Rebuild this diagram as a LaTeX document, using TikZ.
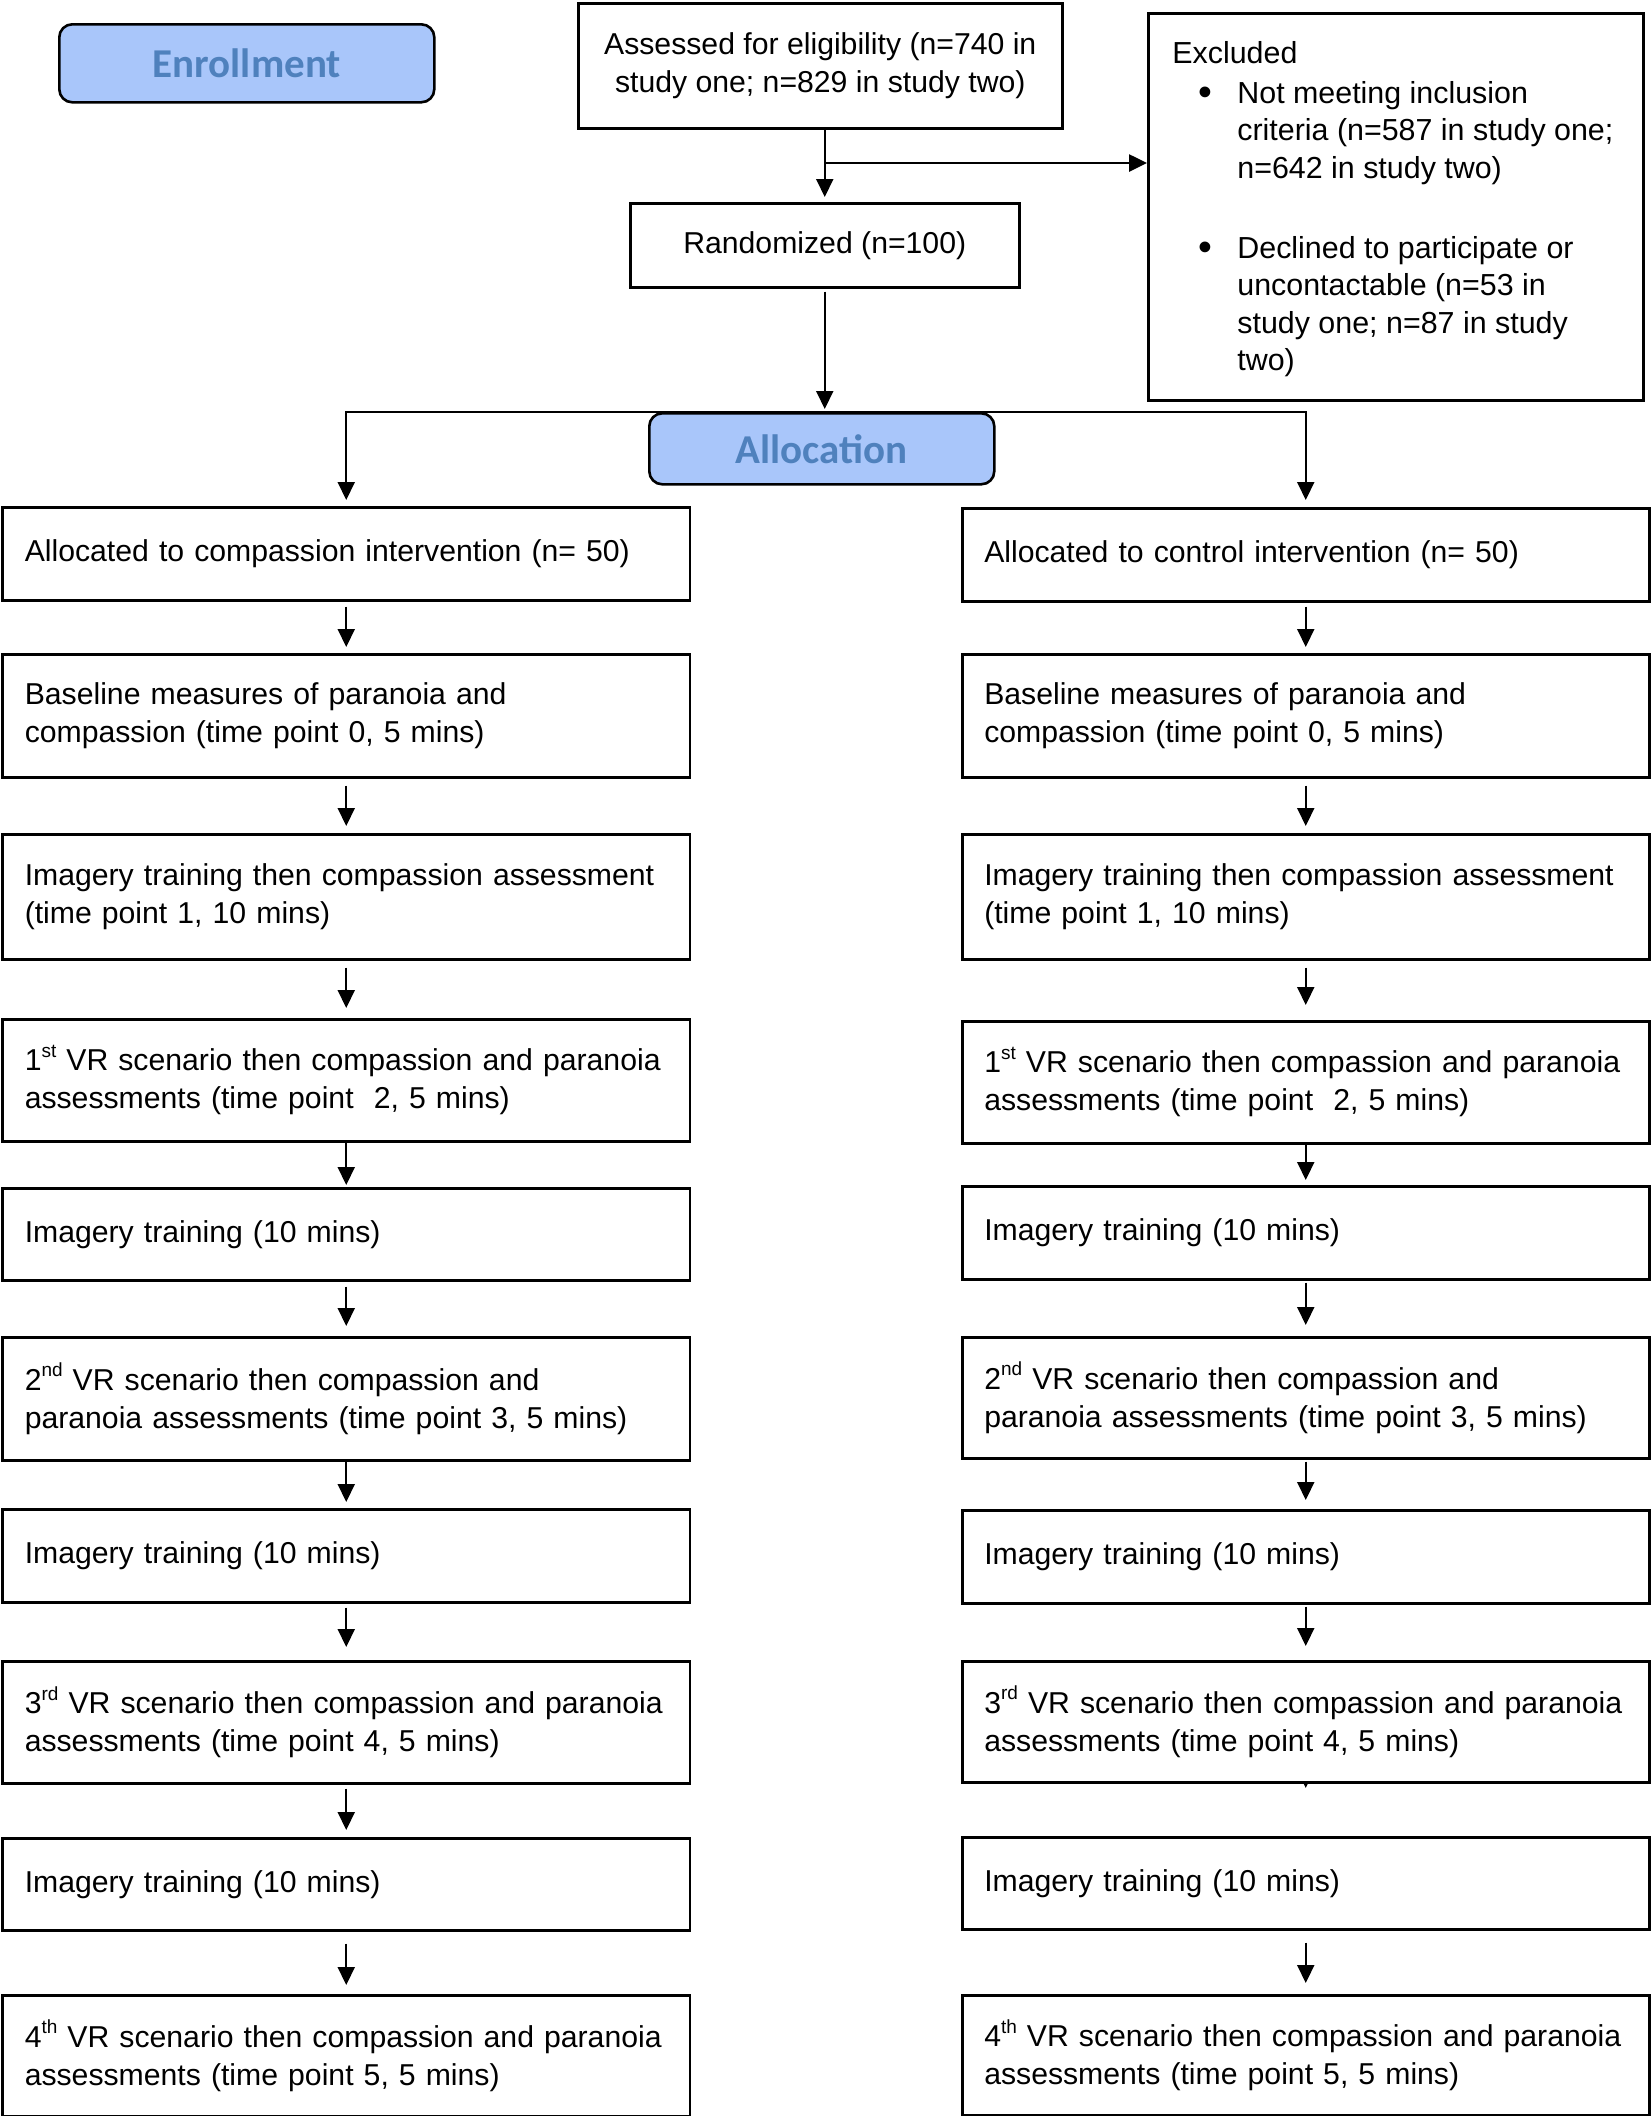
\documentclass[tikz,border=0pt]{standalone}
\usepackage{fontspec}
\setmainfont{Liberation Sans}
\newfontfamily\calibfont{Carlito}
\usetikzlibrary{arrows.meta,backgrounds}
\definecolor{bfill}{HTML}{A9C6FA}
\definecolor{btext}{HTML}{4F81BD}
\newcommand\myss[1]{\raisebox{6.7pt}{\fontsize{9.5pt}{9.5pt}\selectfont #1}}
\newcommand\nb[1]{\mbox{#1}}
\newcommand\mybul{\raisebox{-1.2pt}{\scalebox{1.3}{•}}}
\begin{document}
\begin{tikzpicture}[x=0.5pt,y=-0.5pt,
  txt/.style={font=\fontsize{15.1pt}{19pt}\selectfont},
  flowbox/.style={txt, draw, line width=1.25pt, fill=white, inner xsep=11pt, inner ysep=0pt,
    text width=321.5pt, align=left, anchor=north west},
  plainbox/.style={txt, draw, line width=1.25pt, fill=white, inner sep=0pt, align=center, anchor=north west},
  phase/.style={draw, line width=1.3pt, fill=bfill, rounded corners=6.5pt, inner sep=0pt,
    text=btext, font=\calibfont\bfseries\fontsize{20.5pt}{24pt}\selectfont, anchor=north west},
  arr/.style={-{Triangle[length=9pt,width=8.5pt]}, line width=1pt},
]
\useasboundingbox (0,0) rectangle (1650,2116);

% top part
\node[phase, minimum width=187.5pt, minimum height=39pt] (enroll) at (58,23) {Enrollment};
\node[plainbox, minimum width=242pt, minimum height=62.5pt] (assess) at (577,2)
  {Assessed for eligibility (n=740 in\\study one; n=829 in study two)};
\node[plainbox, minimum width=194.5pt, minimum height=42pt] (rand) at (629,202) {Randomized (n=100)};
\node[plainbox, minimum width=247.5pt, minimum height=193.5pt] (excl) at (1147,12) {};
\node[inner sep=0pt, anchor=north west, align=left, font=\fontsize{15.2pt}{18.75pt}\selectfont] (excltxt) at (1172,41)
  {Excluded\\[1.25pt]
   \hspace*{13pt}\makebox[19.5pt][l]{\mybul}Not meeting inclusion\\
   \hspace*{32.5pt}criteria (n=587 in study one;\\
   \hspace*{32.5pt}n=642 in study two)\\[21.25pt]
   \hspace*{13pt}\makebox[19.5pt][l]{\mybul}Declined to participate or\\
   \hspace*{32.5pt}uncontactable (n=53 in\\
   \hspace*{32.5pt}study one; n=87 in study\\
   \hspace*{32.5pt}two)};
\node[phase, minimum width=172.5pt, minimum height=35.5pt] (alloc) at (648,412) {Allocation};

% left column
\node[flowbox, minimum height=46.5pt] (l1) at (1.5,506) {\nb{Allocated to compassion intervention (n= 50)}};
\node[flowbox, minimum height=61.5pt] (l2) at (1.5,653) {\nb{Baseline measures of paranoia and}\\\nb{compassion (time point 0, 5 mins)}};
\node[flowbox, minimum height=62.5pt] (l3) at (1.5,833) {\nb{Imagery training then compassion assessment}\\\nb{(time point 1, 10 mins)}};
\node[flowbox, minimum height=61pt] (l4) at (1.5,1018) {\nb{1\myss{st} VR scenario then compassion and paranoia}\\\nb{assessments (time point~ 2, 5 mins)}};
\node[flowbox, minimum height=46pt] (l5) at (1.5,1187) {Imagery training (10 mins)};
\node[flowbox, minimum height=61.5pt] (l6) at (1.5,1336) {\nb{2\myss{nd} VR scenario then compassion and}\\\nb{paranoia assessments (time point 3, 5 mins)}};
\node[flowbox, minimum height=46.5pt] (l7) at (1.5,1508) {Imagery training (10 mins)};
\node[flowbox, minimum height=61pt] (l8) at (1.5,1660) {\nb{3\myss{rd} VR scenario then compassion and paranoia}\\\nb{assessments (time point 4, 5 mins)}};
\node[flowbox, minimum height=46pt] (l9) at (1.5,1837) {Imagery training (10 mins)};
\node[flowbox, minimum height=60.5pt] (l10) at (1.5,1994) {\nb{4\myss{th} VR scenario then compassion and paranoia}\\\nb{assessments (time point 5, 5 mins)}};

% right column
\node[flowbox, minimum height=46.5pt] (r1) at (961,507) {\nb{Allocated to control intervention (n= 50)}};
\node[flowbox, minimum height=61.5pt] (r2) at (961,653) {\nb{Baseline measures of paranoia and}\\\nb{compassion (time point 0, 5 mins)}};
\node[flowbox, minimum height=62.5pt] (r3) at (961,833) {\nb{Imagery training then compassion assessment}\\\nb{(time point 1, 10 mins)}};
\node[flowbox, minimum height=61pt] (r4) at (961,1020) {\nb{1\myss{st} VR scenario then compassion and paranoia}\\\nb{assessments (time point~ 2, 5 mins)}};
\node[flowbox, minimum height=46.5pt] (r5) at (961,1185) {Imagery training (10 mins)};
\node[flowbox, minimum height=60.5pt] (r6) at (961,1336) {\nb{2\myss{nd} VR scenario then compassion and}\\\nb{paranoia assessments (time point 3, 5 mins)}};
\node[flowbox, minimum height=46.5pt] (r7) at (961,1509) {Imagery training (10 mins)};
\node[flowbox, minimum height=60.5pt] (r8) at (961,1660) {\nb{3\myss{rd} VR scenario then compassion and paranoia}\\\nb{assessments (time point 4, 5 mins)}};
\node[flowbox, minimum height=46pt] (r9) at (961,1836) {Imagery training (10 mins)};
\node[flowbox, minimum height=60pt] (r10) at (961,1994) {\nb{4\myss{th} VR scenario then compassion and paranoia}\\\nb{assessments (time point 5, 5 mins)}};

% connectors
\coordinate (br) at (824,163);
\draw[arr, shorten >=2.5pt] (assess.south -| rand.north) -- (rand.north);
\draw[arr, line width=1.3pt] (br) -- (br -| excl.west);
\draw[arr, shorten <=1.5pt, shorten >=1.5pt] (rand.south) -- (rand.south |- alloc.north);
\begin{scope}[on background layer]
\draw[arr, shorten >=3pt] (alloc.north) -| (l1.north);
\draw[arr, shorten >=3.5pt] (alloc.north) -| (r1.north);
\draw[arr, shorten >=24pt] (r8) -- (r9.north);
\end{scope}

\draw[arr, shorten <=2.5pt, shorten >=3pt] (l1.south) -- (l2.north);
\draw[arr, shorten <=3.5pt, shorten >=3.5pt] (l2.south) -- (l3.north);
\draw[arr, shorten <=3.5pt, shorten >=5pt] (l3.south) -- (l4.north);
\draw[arr, shorten <=0pt, shorten >=1pt] (l4.south) -- (l5.north);
\draw[arr, shorten <=2.5pt, shorten >=5pt] (l5.south) -- (l6.north);
\draw[arr, shorten <=0pt, shorten >=3pt] (l6.south) -- (l7.north);
\draw[arr, shorten <=2pt, shorten >=6.5pt] (l7.south) -- (l8.north);
\draw[arr, shorten <=2pt, shorten >=3.5pt] (l8.south) -- (l9.north);
\draw[arr, shorten <=6pt, shorten >=4.5pt] (l9.south) -- (l10.north);

\draw[arr, shorten <=2pt, shorten >=3pt] (r1.south) -- (r2.north);
\draw[arr, shorten <=3.5pt, shorten >=3.5pt] (r2.south) -- (r3.north);
\draw[arr, shorten <=3.5pt, shorten >=7.5pt] (r3.south) -- (r4.north);
\draw[arr, shorten <=0pt, shorten >=2.5pt] (r4.south) -- (r5.north);
\draw[arr, shorten <=1pt, shorten >=5.5pt] (r5.south) -- (r6.north);
\draw[arr, shorten <=1pt, shorten >=4.5pt] (r6.south) -- (r7.north);
\draw[arr, shorten <=1pt, shorten >=7pt] (r7.south) -- (r8.north);
\draw[arr, shorten <=6pt, shorten >=5.5pt] (r9.south) -- (r10.north);
\end{tikzpicture}
\end{document}
